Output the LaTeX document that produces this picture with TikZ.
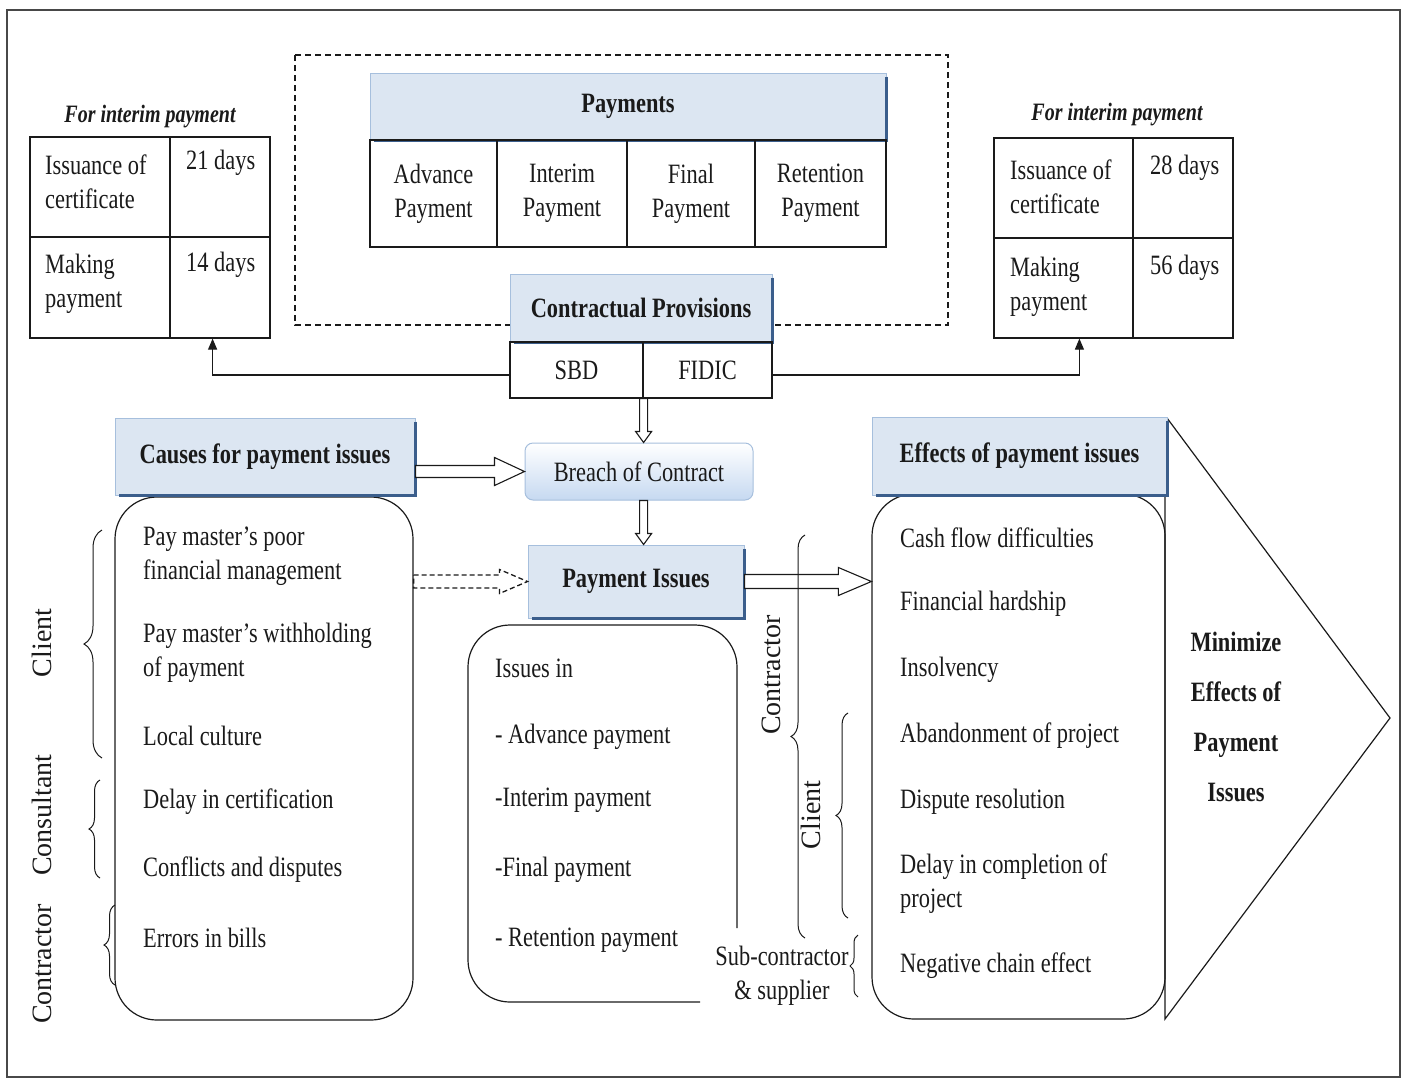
\documentclass[tikz,border=0pt]{standalone}
\usepackage{fontspec}
\setmainfont{Liberation Serif}[FakeStretch=0.8]
\newfontfamily\rotfont{Liberation Serif}
\usetikzlibrary{arrows.meta,calc,decorations.pathreplacing}
\definecolor{hdrfill}{HTML}{DCE6F2}
\definecolor{hdrline}{HTML}{A6BFDD}
\definecolor{hdrshadow}{HTML}{3B5E8C}
\definecolor{ink}{HTML}{1A1A1A}
\definecolor{brlight}{HTML}{C6D9F1}
\newcommand\hdrshade[1]{\draw[hdrshadow, line width=2.5pt] ([yshift=-4pt]#1.north east) -- (#1.south east) -- ([xshift=4pt]#1.south west);}
\newcommand\hollowarrow[6][]{%
  \coordinate (ha) at ($(#3)!#6pt!(#2)$);
  \draw[line width=1.1pt, draw=ink, fill=white, #1]
    ($(#2)!#4pt!90:(#3)$) -- ($(ha)!#4pt!90:(#3)$) -- ($(ha)!#5pt!90:(#3)$) -- (#3)
    -- ($(ha)!#5pt!-90:(#3)$) -- ($(ha)!#4pt!-90:(#3)$) -- ($(#2)!#4pt!-90:(#3)$) -- cycle;}
\tikzset{
  every node/.style={font=\fontsize{28}{34}\selectfont, text=ink},
  cell/.style={draw=ink, line width=1.2pt, inner sep=0pt},
  hdr/.style={draw=hdrline, fill=hdrfill, line width=1pt, inner sep=0pt, font=\fontsize{28}{34}\selectfont\bfseries},
  rbox/.style={draw=ink, line width=1.2pt, rounded corners=42pt, inner sep=0pt},
  txt/.style={anchor=west, align=left, inner sep=0pt},
  ttl/.style={font=\fontsize{25}{30}\selectfont\bfseries\itshape},
  rot/.style={rotate=90, font=\rotfont\fontsize{28}{34}\selectfont, inner sep=0pt},
  brc/.style={draw=ink, line width=1pt, decorate, decoration={brace, amplitude=#1}},
  link/.style={draw=ink, line width=1.2pt, -{Triangle[length=11pt,width=9pt]}}
}
\begin{document}
\begin{tikzpicture}[x=1pt,y=-1pt]
\useasboundingbox (0,0) rectangle (1404,1079);
\draw[draw=ink!80, line width=1.6pt] (7,10) rectangle (1400,1077);

% dashed frame
\draw[ink, line width=1.5pt, dash pattern=on 6pt off 4pt] (295,55) rectangle (948,325);

% Payments
\node[hdr, minimum width=516pt, minimum height=67pt] (payhdr) at (628,106.5) {Payments};
\hdrshade{payhdr}
\node[cell, minimum width=127pt, minimum height=107pt, align=center] (adv) at (433.5,193.5) {Advance\\Payment};
\node[cell, minimum width=130pt, minimum height=107pt, align=center] (int) at (562,193.5) {Interim\\Payment};
\node[cell, minimum width=128pt, minimum height=107pt, align=center] (fin) at (691,193.5) {Final\\Payment};
\node[cell, minimum width=131pt, minimum height=107pt, align=center] (ret) at (820.5,193.5) {Retention\\Payment};

% Contractual provisions
\node[hdr, minimum width=262pt, minimum height=68pt] (provhdr) at (641,308) {Contractual Provisions};
\hdrshade{provhdr}
\node[cell, minimum width=133pt, minimum height=56pt] (sbd) at (576.5,370) {SBD};
\node[cell, minimum width=129pt, minimum height=56pt] (fidic) at (707.5,370) {FIDIC};

% left table
\node[ttl] (lttl) at (150,117) {For interim payment};
\node[cell, minimum width=140pt, minimum height=100pt] (lt11) at (100,187) {};
\node[cell, minimum width=100pt, minimum height=100pt] (lt12) at (220,187) {};
\node[cell, minimum width=140pt, minimum height=101pt] (lt21) at (100,287.5) {};
\node[cell, minimum width=100pt, minimum height=101pt] (lt22) at (220,287.5) {};
\node[txt] at (45,181.5) {Issuance of\\certificate};
\node[txt] at (186,163) {21 days};
\node[txt] at (45,283.5) {Making\\payment};
\node[txt] at (186,265) {14 days};

% right table
\node[ttl] (rttl) at (1117,115) {For interim payment};
\node[cell, minimum width=139pt, minimum height=100pt] (rt11) at (1063.5,188) {};
\node[cell, minimum width=100pt, minimum height=100pt] (rt12) at (1183,188) {};
\node[cell, minimum width=139pt, minimum height=100pt] (rt21) at (1063.5,288) {};
\node[cell, minimum width=100pt, minimum height=100pt] (rt22) at (1183,288) {};
\node[txt] at (1010,186.5) {Issuance of\\certificate};
\node[txt] at (1150,168) {28 days};
\node[txt] at (1010,286.5) {Making\\payment};
\node[txt] at (1150,268) {56 days};

% connectors to tables
\draw[link] (sbd.west |- 0,375) -| ([xshift=42pt]lt21.south east);
\draw[link] (fidic.east |- 0,375) -| ([xshift=-53pt]rt22.south west);

% breach & payment issues
\node[draw=hdrline, line width=1pt, rounded corners=8pt, top color=white, bottom color=brlight,
      minimum width=228pt, minimum height=57pt, inner sep=0pt] (breach) at (639,471.5) {Breach of Contract};
\node[hdr, minimum width=216pt, minimum height=73pt] (pi) at (636,581.5) {Payment Issues};
\hdrshade{pi}

% causes
\node[rbox, minimum width=298pt, minimum height=523pt] (causesbox) at (264,758.5) {};
\node[hdr, minimum width=300pt, minimum height=77pt] (causeshdr) at (265,456.5) {Causes for payment issues};
\hdrshade{causeshdr}
\node[txt] at (143,556) {Pay master’s poor\\financial management};
\node[txt] at (143,652.5) {Pay master’s withholding\\of payment};
\node[txt] at (143,736) {Local culture};
\node[txt] at (143,802) {Delay in certification};
\node[txt] at (143,870) {Conflicts and disputes};
\node[txt] at (143,938) {Errors in bills};

% issues box
\draw[draw=ink, line width=1.2pt, rounded corners=42pt] (737,928) -- (737,625) -- (468,625) -- (468,1002) -- (700,1002);
\node[txt] at (495,668) {Issues in};
\node[txt] at (495,737) {- Advance payment};
\node[txt] at (495,800) {-Interim payment};
\node[txt] at (495,870) {-Final payment};
\node[txt] at (495,940) {- Retention payment};

% effects
\draw[draw=ink, line width=1.2pt] (1167,418) -- (1390,718) -- (1165,1019) -- (1165,495);
\node[rbox, minimum width=293pt, minimum height=525pt] (effbox) at (1018.5,756.5) {};
\node[hdr, minimum width=295pt, minimum height=78pt] (effhdr) at (1019.5,456) {Effects of payment issues};
\hdrshade{effhdr}
\node[txt] at (900,538) {Cash flow difficulties};
\node[txt] at (900,604) {Financial hardship};
\node[txt] at (900,670) {Insolvency};
\node[txt] at (900,736) {Abandonment of project};
\node[txt] at (900,802) {Dispute resolution};
\node[txt] at (900,884) {Delay in completion of\\project};
\node[txt] at (900,966) {Negative chain effect};
\node[align=center, font=\fontsize{28}{50}\selectfont\bfseries, inner sep=0pt] (minim) at (1236,716.5) {Minimize\\Effects of\\Payment\\Issues};

% hollow arrows
\coordinate (a1) at (causeshdr.east |- breach.west);
\hollowarrow{a1}{breach.west}{6}{14}{30}
\coordinate (v1) at (breach.north -| sbd.south east);
\hollowarrow{sbd.south east}{v1}{4}{8}{11}
\coordinate (v2) at (breach.south -| sbd.south east);
\coordinate (v3) at (pi.north -| sbd.south east);
\hollowarrow{v2}{v3}{4}{8}{11}
\coordinate (h2) at (effbox.west |- pi.east);
\hollowarrow{pi.east}{h2}{7}{14}{33}
\coordinate (h3) at (causesbox.east |- pi.west);
\hollowarrow[dash pattern=on 5pt off 3pt, line width=1.3pt, fill=none]{h3}{pi.west}{6.5}{12}{28}

% left braces and labels
\draw[brc=18pt] (102,758) -- (102,530);
\draw[brc=11pt] (100,878) -- (100,780);
\draw[brc=11pt] (115,985) -- (115,905);
\node[rot] at (42,643) {Client};
\node[rot] at (42,815) {Consultant};
\node[rot] at (42,964) {Contractor};

% right braces and labels
\draw[brc=14pt] (805,938) -- (805,535);
\draw[brc=12pt] (848,918) -- (848,713);
\draw[brc=8pt] (858,997) -- (858,935);
\node[rot] at (771,675) {Contractor};
\node[rot] at (811,815) {Client};
\node[align=center, inner sep=0pt] at (782,976) {Sub-contractor\\\& supplier};
\end{tikzpicture}
\end{document}
